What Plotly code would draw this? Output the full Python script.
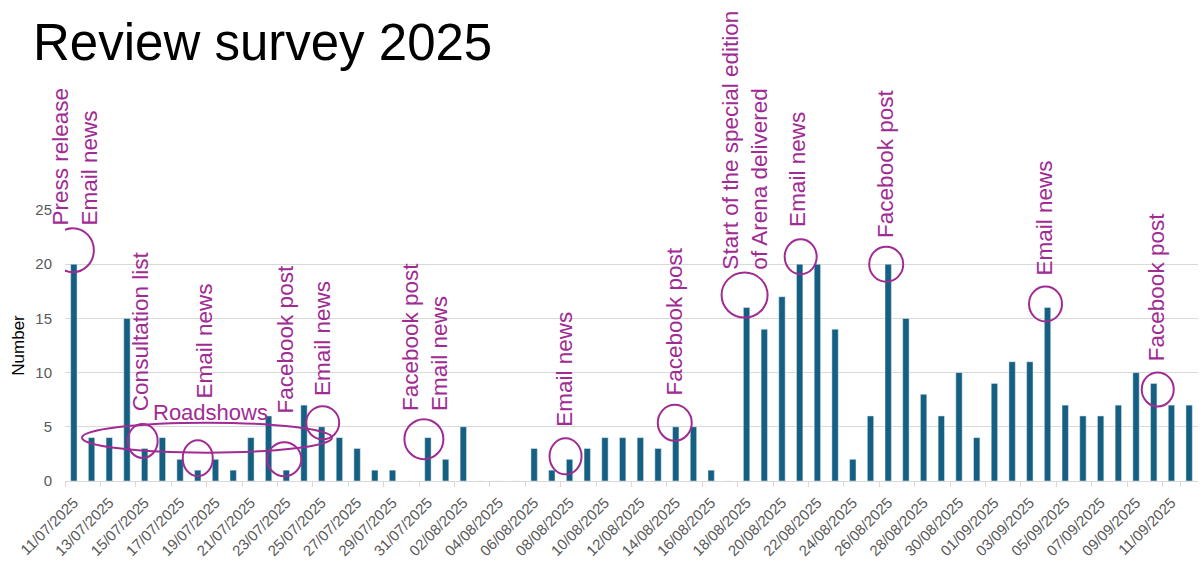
import plotly.graph_objects as go

# Daily survey responses, 11 July - 12 September 2025
dates = [
    "11/07/2025", "12/07/2025", "13/07/2025", "14/07/2025", "15/07/2025", "16/07/2025",
    "17/07/2025", "18/07/2025", "19/07/2025", "20/07/2025", "21/07/2025", "22/07/2025",
    "23/07/2025", "24/07/2025", "25/07/2025", "26/07/2025", "27/07/2025", "28/07/2025",
    "29/07/2025", "30/07/2025", "31/07/2025",
    "01/08/2025", "02/08/2025", "03/08/2025", "04/08/2025", "05/08/2025", "06/08/2025",
    "07/08/2025", "08/08/2025", "09/08/2025", "10/08/2025", "11/08/2025", "12/08/2025",
    "13/08/2025", "14/08/2025", "15/08/2025", "16/08/2025", "17/08/2025", "18/08/2025",
    "19/08/2025", "20/08/2025", "21/08/2025", "22/08/2025", "23/08/2025", "24/08/2025",
    "25/08/2025", "26/08/2025", "27/08/2025", "28/08/2025", "29/08/2025", "30/08/2025",
    "31/08/2025",
    "01/09/2025", "02/09/2025", "03/09/2025", "04/09/2025", "05/09/2025", "06/09/2025",
    "07/09/2025", "08/09/2025", "09/09/2025", "10/09/2025", "11/09/2025", "12/09/2025",
]

responses_july = [20, 4, 4, 15, 3, 4, 2, 1, 2, 1, 4, 6, 1, 7, 5, 4, 3, 1, 1, 0, 4]
responses_august = [2, 5, 0, 0, 0, 3, 1, 2, 3, 4, 4, 4, 3, 5, 5, 1, 0, 16, 14, 17,
                    20, 20, 14, 2, 6, 20, 15, 8, 6, 10, 4]
responses_september = [9, 11, 11, 16, 7, 6, 6, 7, 10, 9, 7, 7]
responses = responses_july + responses_august + responses_september

# Every second date is labelled on the axis
tick_dates = dates[::2]

# Promotional activity shown against the bars
event_dates = ["11/07/2025", "15/07/2025", "18/07/2025", "23/07/2025", "25/07/2025",
               "31/07/2025", "08/08/2025", "14/08/2025", "18/08/2025", "21/08/2025",
               "26/08/2025", "04/09/2025", "10/09/2025"]
event_labels = ["Press release<br>Email news", "Consultation list", "Email news",
                "Facebook post", "Email news", "Facebook post<br>Email news",
                "Email news", "Facebook post",
                "Start of the special edition<br>of Arena delivered",
                "Email news", "Facebook post", "Email news", "Facebook post"]
roadshow_first, roadshow_last = "12/07/2025", "25/07/2025"

# Pixel offsets for each callout: label (dx, dy) and ring (dx, dy, rx, ry)
label_offsets = [(1.5, 37), (-3.5, 35.5), (7, 70), (-1, 55), (1, 29), (-3, 24.5),
                 (-4.5, 30), (-1, 29), (-2.5, 35.5), (-2, 35.5), (-3, 24.5),
                 (-2.5, 29.5), (3, 20)]
ring_offsets = [(-1, 14, 21, 22), (-2, 7.5, 15, 17), (0, 12, 15, 18), (-2, 11, 17, 17),
                (1, 4, 16.5, 16.5), (-4, -1.5, 19.5, 20), (-4, 3, 16, 18),
                (-1, 4, 17, 18), (-2, 12.5, 23, 22.5), (1, 7.5, 16, 17.5),
                (-2, 0, 17, 17.5), (-2, 3.5, 16.5, 17.5), (4, -6, 16, 17)]

BAR = "#156082"
ACCENT = "#A02B93"
GRID = "#d9d9d9"
FONT = "Liberation Sans, Arial, sans-serif"

fig = go.Figure(
    go.Bar(x=dates, y=responses, marker_color=BAR, hoverinfo="x+y")
)

annotations = []
shapes = []
for d, text, (ldx, ldy), (cdx, cdy, rx, ry) in zip(event_dates, event_labels,
                                                     label_offsets, ring_offsets):
    i = dates.index(d)
    v = responses[i]
    annotations.append(dict(
        x=i, y=v, xref="x", yref="y", text=text, showarrow=False,
        textangle=-90, xanchor="center", yanchor="bottom", align="left",
        xshift=ldx, yshift=ldy,
        font=dict(family=FONT, size=22.5, color=ACCENT),
    ))
    shapes.append(dict(
        type="circle", xref="x", yref="y",
        xsizemode="pixel", ysizemode="pixel", xanchor=i, yanchor=v,
        x0=cdx - rx, x1=cdx + rx, y0=cdy - ry, y1=cdy + ry,
        line=dict(color=ACCENT, width=2), fillcolor="rgba(0,0,0,0)",
    ))

# Roadshows ring spanning the roadshow period
r0, r1 = dates.index(roadshow_first), dates.index(roadshow_last)
shapes.append(dict(
    type="circle", xref="x", yref="y", ysizemode="pixel", yanchor=4,
    x0=r0 - 0.54, x1=r1 + 0.58, y0=-15, y1=15,
    line=dict(color=ACCENT, width=2), fillcolor="rgba(0,0,0,0)",
))
annotations.append(dict(
    x=(r0 + r1) / 2, y=4, xref="x", yref="y", text="Roadshows", showarrow=False,
    xanchor="center", yanchor="middle", xshift=4, yshift=25,
    font=dict(family=FONT, size=22, color=ACCENT),
))

fig.update_layout(
    width=1202, height=561,
    margin=dict(l=65, r=4, t=210, b=80, pad=0),
    paper_bgcolor="white", plot_bgcolor="white",
    bargap=0.64, showlegend=False,
    font=dict(family=FONT, color="#595959"),
    title=dict(
        text="Review survey 2025", xref="container", yref="container",
        x=33 / 1202, xanchor="left", y=1 - 24 / 561, yanchor="top",
        font=dict(family=FONT, size=51, color="black"),
    ),
    annotations=annotations,
    shapes=shapes,
)

fig.update_xaxes(
    type="category", tickmode="array", tickvals=tick_dates, ticktext=tick_dates,
    tickangle=-45, tickfont=dict(size=15, color="#595959"),
    ticks="outside", tickson="boundaries", ticklen=5, tickcolor=GRID,
    ticklabelstandoff=6, automargin=False,
    showline=True, linecolor=GRID, linewidth=1, showgrid=False,
    range=[-0.5, len(dates) - 0.5],
)
fig.update_yaxes(
    range=[0, 25], tickvals=[0, 5, 10, 15, 20, 25],
    tickfont=dict(size=15, color="#595959"),
    showgrid=True, gridcolor=GRID, gridwidth=1, zeroline=False,
    ticklabelstandoff=12, automargin=False,
    title=dict(text="Number", font=dict(size=17, color="black"), standoff=6),
)

fig.write_html("out.html")
